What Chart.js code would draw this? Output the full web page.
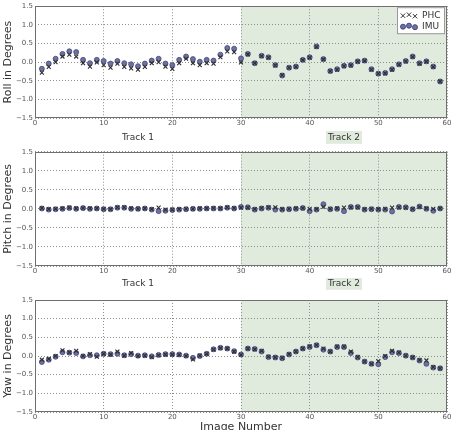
<!DOCTYPE html>
<html><head><meta charset="utf-8">
<script src="https://cdn.jsdelivr.net/npm/chart.js@4.4.0/dist/chart.umd.min.js"></script>
<style>
html,body{margin:0;padding:0;background:#fff;width:453px;height:430px;overflow:hidden}
canvas{position:absolute;left:0}
</style></head><body>
<canvas id="c1" width="453" height="145" style="top:0px"></canvas>
<canvas id="c2" width="453" height="145" style="top:145px"></canvas>
<canvas id="c3" width="453" height="144" style="top:290px"></canvas>
<script>
// ---------- data ----------
const imageNumbers = [1,2,3,4,5,6,7,8,9,10,11,12,13,14,15,16,17,18,19,20,21,22,23,24,25,26,27,28,29,30,
  31,32,33,34,35,36,37,38,39,40,41,42,43,44,45,46,47,48,49,50,51,52,53,54,55,56,57,58,59];

const rollPHC = [-0.28,-0.13,0.00,0.15,0.20,0.15,-0.03,-0.12,-0.01,-0.08,-0.15,-0.04,-0.13,-0.17,-0.20,-0.13,-0.03,0.00,-0.12,-0.18,
  -0.03,0.09,-0.03,-0.08,-0.03,-0.04,0.13,0.29,0.27,-0.01,0.21,-0.03,0.16,0.12,-0.09,-0.35,-0.15,-0.13,0.05,0.12,
  0.41,0.07,-0.24,-0.20,-0.11,-0.09,0.01,0.03,-0.20,-0.31,-0.30,-0.20,-0.07,0.02,0.14,-0.04,0.01,-0.13,-0.52];
const rollIMU = [-0.18,-0.04,0.09,0.22,0.29,0.27,0.06,-0.03,0.06,0.03,-0.04,0.03,-0.03,-0.06,-0.11,-0.04,0.04,0.09,-0.04,-0.08,
  0.06,0.15,0.08,0.01,0.06,0.04,0.20,0.38,0.36,0.10,0.22,-0.03,0.17,0.13,-0.08,-0.36,-0.15,-0.12,0.06,0.13,
  0.42,0.08,-0.24,-0.19,-0.10,-0.08,0.02,0.04,-0.19,-0.31,-0.29,-0.19,-0.06,0.03,0.15,-0.03,0.02,-0.12,-0.52];

const pitchPHC = [0.02,-0.01,0.00,0.01,0.03,0.01,0.02,0.01,0.01,0.00,-0.01,0.04,0.04,0.01,0.00,0.01,-0.01,0.03,-0.02,-0.02,
  -0.01,0.00,0.00,0.01,0.01,0.02,0.01,0.04,0.02,0.03,0.03,-0.01,0.02,0.04,0.04,-0.01,0.00,0.01,0.02,0.00,
  -0.01,0.05,0.00,0.01,0.03,0.04,0.04,-0.01,0.00,-0.01,0.00,0.03,0.04,0.03,0.00,0.05,0.01,0.00,0.01];
const pitchIMU = [0.01,-0.02,-0.01,0.00,0.02,0.00,0.02,0.00,0.01,-0.01,-0.01,0.03,0.03,0.00,0.00,0.01,-0.02,-0.06,-0.05,-0.03,
  -0.02,-0.01,0.00,0.00,0.01,0.01,0.01,0.03,0.01,0.05,0.04,-0.02,0.01,0.03,-0.02,-0.02,-0.01,0.00,0.02,-0.06,
  -0.02,0.12,-0.01,0.00,-0.06,0.05,0.05,-0.02,-0.01,-0.02,-0.02,-0.07,0.05,0.04,-0.01,0.06,0.00,-0.05,0.01];

const yawPHC = [-0.10,-0.08,0.00,0.15,0.10,0.14,0.00,0.05,-0.02,0.06,0.04,0.12,0.01,0.08,0.00,0.01,-0.03,0.02,0.04,0.04,
  0.03,0.00,-0.09,0.01,0.06,0.17,0.21,0.20,0.12,0.03,0.20,0.18,0.14,-0.02,-0.04,-0.05,0.05,0.12,0.20,0.26,
  0.29,0.20,0.12,0.25,0.25,0.12,-0.03,-0.15,-0.21,-0.14,0.00,0.14,0.09,0.01,-0.04,-0.11,-0.12,-0.30,-0.33];
const yawIMU = [-0.16,-0.10,-0.02,0.10,0.09,0.08,-0.01,0.02,0.02,0.06,0.05,0.06,0.02,0.05,0.01,0.02,-0.01,0.03,0.05,0.05,
  0.04,0.01,-0.05,0.00,0.06,0.18,0.22,0.20,0.13,0.04,0.20,0.19,0.12,-0.03,-0.04,-0.06,0.04,0.12,0.20,0.24,
  0.29,0.17,0.12,0.24,0.24,0.08,-0.04,-0.15,-0.21,-0.22,-0.03,0.10,0.08,0.01,-0.04,-0.12,-0.21,-0.31,-0.33];

const xTickValues = [0,10,20,30,40,50,60];
const xTickLabels = ['0','10','20','30','40','50','60'];
const yTickValues = [-1.5,-1.0,-0.5,0.0,0.5,1.0,1.5];
const yTickLabels = ['\u22121.5','\u22121.0','\u22120.5','0.0','0.5','1.0','1.5'];
const trackCenters = [15,45];
const trackLabels = ['Track 1','Track 2'];
const track2Range = [30,60];
const seriesNames = ['PHC','IMU'];
const axisTitles = ['Roll in Degrees','Pitch in Degrees','Yaw in Degrees'];
const xAxisTitle = 'Image Number';

// ---------- style ----------
const FONT = '"DejaVu Sans", sans-serif';
const SHADE = '#e0eadd';
const PHC_COLOR = '#2e2e2e';
const IMU_FILL = '#6d71a3';
const IMU_EDGE = '#45497a';

const shadePlugin = {
  id: 'shade',
  beforeDraw(chart) {
    const {ctx, chartArea: a, scales: {x}} = chart;
    const x0 = x.getPixelForValue(track2Range[0]), x1 = x.getPixelForValue(track2Range[1]);
    ctx.save();
    ctx.fillStyle = SHADE;
    ctx.fillRect(x0, a.top, x1 - x0, a.bottom - a.top);
    ctx.restore();
  },
  afterDraw(chart) {
    const {ctx, chartArea: a} = chart;
    ctx.save();
    ctx.strokeStyle = '#6f6f6f';
    ctx.lineWidth = 1;
    ctx.strokeRect(Math.round(a.left) + 0.5, Math.round(a.top) + 0.5, Math.round(a.right - a.left) - 1, Math.round(a.bottom - a.top) - 1);
    ctx.restore();
  }
};

const legendPlugin = {
  id: 'boxLegend',
  afterDraw(chart) {
    const {ctx, chartArea: a} = chart;
    const w = 47, h = 26;
    const bx = a.right - w - 3, by = a.top + 1;
    ctx.save();
    ctx.fillStyle = '#ffffff';
    ctx.strokeStyle = '#9a9a9a';
    ctx.lineWidth = 1;
    ctx.fillRect(bx, by, w, h);
    ctx.strokeRect(bx + 0.5, by + 0.5, w, h);
    const offs = [0.5, -0.5, 1];
    for (let k = 0; k < 3; k++) {
      const cx = bx + 6 + k * 6, cy = by + 8 + offs[k];
      ctx.strokeStyle = PHC_COLOR; ctx.lineWidth = 1;
      ctx.beginPath();
      ctx.moveTo(cx - 2.2, cy - 2.2); ctx.lineTo(cx + 2.2, cy + 2.2);
      ctx.moveTo(cx + 2.2, cy - 2.2); ctx.lineTo(cx - 2.2, cy + 2.2);
      ctx.stroke();
    }
    for (let k = 0; k < 3; k++) {
      const cx = bx + 6 + k * 6, cy = by + 19 + offs[k];
      ctx.fillStyle = IMU_FILL; ctx.strokeStyle = IMU_EDGE;
      ctx.beginPath(); ctx.arc(cx, cy, 2.5, 0, Math.PI * 2); ctx.fill(); ctx.stroke();
    }
    ctx.fillStyle = '#333';
    ctx.font = '9px ' + FONT;
    ctx.textBaseline = 'middle';
    ctx.textAlign = 'left';
    ctx.fillText(seriesNames[0], bx + 25, by + 8);
    ctx.fillText(seriesNames[1], bx + 25, by + 19.5);
    ctx.restore();
  }
};

function makeChart(id, phc, imu, title, opts) {
  const scales = {
    x: {
      type: 'linear', min: 0, max: 60, position: 'bottom', weight: 0,
      afterBuildTicks: s => { s.ticks = xTickValues.map(v => ({value: v})); },
      afterFit: s => { s.height = opts.xHeight; },
      grid: { color: '#8f8f8f', lineWidth: 1, drawTicks: false },
      border: { display: false, dash: [1, 2] },
      ticks: { padding: 1, autoSkip: false, maxRotation: 0, minRotation: 0, color: '#555', font: {family: FONT, size: 7},
               callback: (v, i) => xTickLabels[i] },
      title: opts.xTitle ? { display: true, text: xAxisTitle, color: '#333', font: {family: FONT, size: 11}, padding: {top: 0, bottom: 0} } : { display: false }
    },
    y: {
      type: 'linear', min: -1.5, max: 1.5, position: 'left',
      afterBuildTicks: s => { s.ticks = yTickValues.map(v => ({value: v})); },
      afterFit: s => { s.width = 35; },
      grid: { color: '#8f8f8f', lineWidth: 1, drawTicks: false },
      border: { display: false, dash: [1, 2] },
      ticks: { padding: 2, autoSkip: false, color: '#555', font: {family: FONT, size: 7},
               callback: (v, i) => yTickLabels[i] },
      title: { display: true, text: title, color: '#333', font: {family: FONT, size: 11}, padding: {top: 2, bottom: 0} }
    }
  };
  if (opts.tracks) {
    scales.x2 = {
      type: 'linear', min: 0, max: 60, position: 'bottom', weight: 1,
      afterBuildTicks: s => { s.ticks = trackCenters.map(v => ({value: v})); },
      afterFit: s => { s.height = opts.trackHeight; },
      grid: { display: false, drawTicks: false },
      border: { display: false },
      ticks: { padding: opts.trackPad, autoSkip: false, maxRotation: 0, minRotation: 0, color: '#333', font: {family: FONT, size: 9},
               callback: (v, i) => trackLabels[i],
               showLabelBackdrop: c => c.index === 1,
               backdropColor: SHADE, backdropPadding: {x: 2, y: 1} }
    };
  }
  const plugins = [shadePlugin];
  if (opts.legend) plugins.push(legendPlugin);
  return new Chart(document.getElementById(id), {
    type: 'scatter',
    data: {
      datasets: [
        { label: seriesNames[0], data: imageNumbers.map((n, i) => ({x: n, y: phc[i]})),
          pointStyle: 'crossRot', radius: 2.8, borderColor: PHC_COLOR, borderWidth: 1.1, backgroundColor: PHC_COLOR },
        { label: seriesNames[1], data: imageNumbers.map((n, i) => ({x: n, y: imu[i]})),
          pointStyle: 'circle', radius: 2.5, borderColor: IMU_EDGE, borderWidth: 0.8, backgroundColor: IMU_FILL }
      ]
    },
    options: {
      responsive: false, animation: false, events: [],
      layout: { padding: { top: opts.top, right: 6, left: 0, bottom: 0 } },
      plugins: { legend: { display: false }, tooltip: { enabled: false } },
      scales
    },
    plugins
  });
}

makeChart('c1', rollPHC, rollIMU, axisTitles[0], {top: 5, xHeight: 12, tracks: true, trackHeight: 15, trackPad: 2, legend: true});
makeChart('c2', pitchPHC, pitchIMU, axisTitles[1], {top: 6.7, xHeight: 12, tracks: true, trackHeight: 12, trackPad: 0, legend: false});
makeChart('c3', yawPHC, yawIMU, axisTitles[2], {top: 10, xHeight: 22, xTitle: true, tracks: false, legend: false});
</script>
</body></html>
